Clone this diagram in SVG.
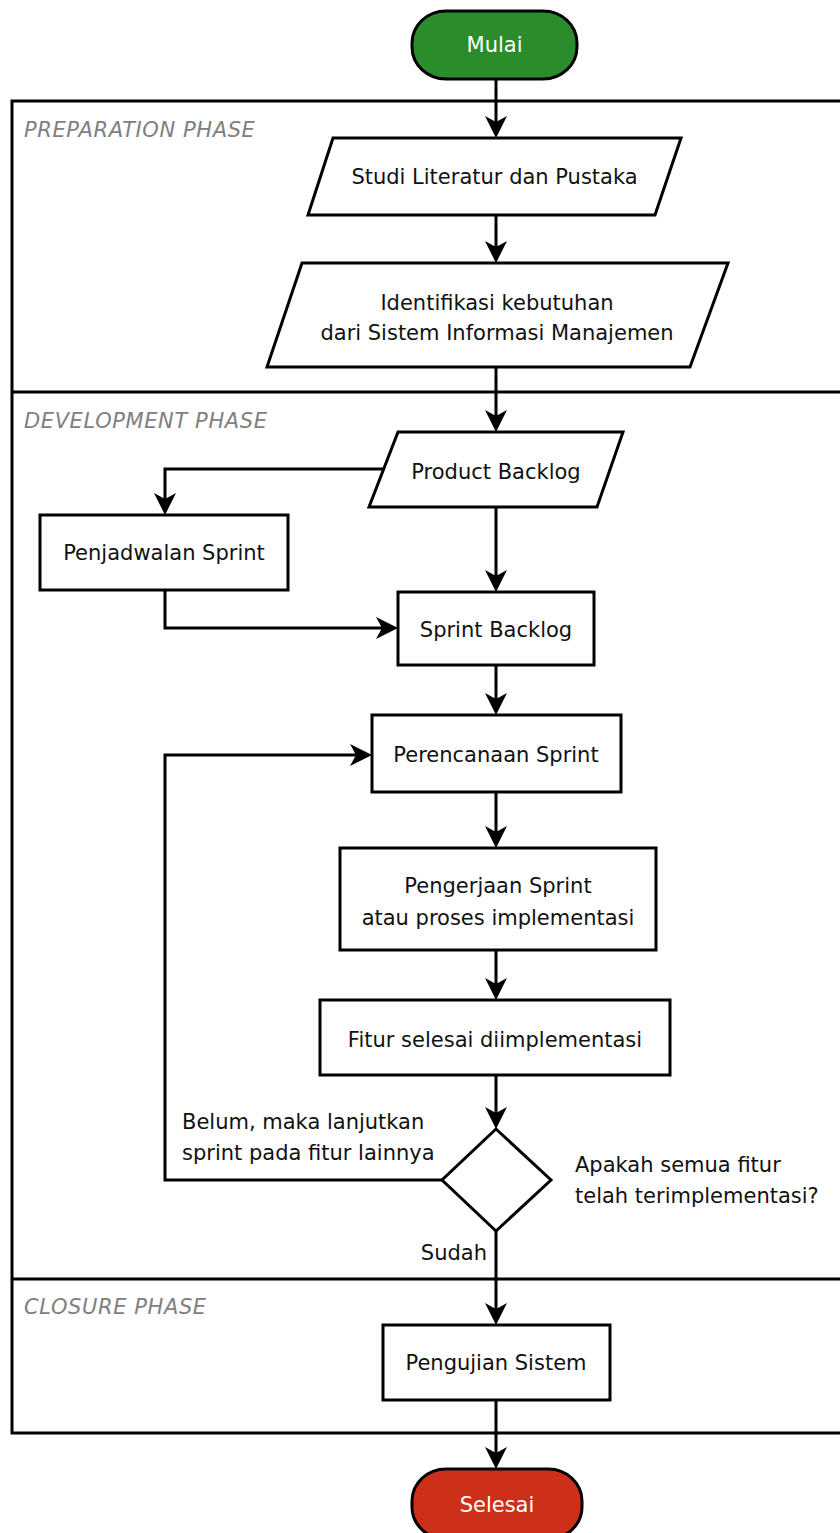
<svg xmlns="http://www.w3.org/2000/svg" width="840" height="1533" viewBox="0 0 840 1533">
<style>
.shape{fill:#fff;stroke:#000;stroke-width:3}
.frame{fill:none;stroke:#000;stroke-width:3}
.conn{fill:none;stroke:#000;stroke-width:3}
.t{font-family:"DejaVu Sans",Verdana,sans-serif;font-size:21px;fill:#111;text-anchor:middle}
.tl{font-family:"DejaVu Sans",Verdana,sans-serif;font-size:21px;fill:#111}
.ph{font-family:"DejaVu Sans",Verdana,sans-serif;font-size:21px;font-style:italic;fill:#808080;letter-spacing:0.6px}
</style>
<defs>
<marker id="arr" viewBox="0 0 22 22" markerWidth="22" markerHeight="22" refX="18" refY="11" orient="auto" markerUnits="userSpaceOnUse">
<path d="M0,0 L22,11 L0,22 L6,11 Z" fill="#000"/>
</marker>
</defs>
<rect width="840" height="1533" fill="#fff"/>
<g id="frame">
<path class="frame" d="M845,101 H12 V1433 H845"/>
<path class="frame" d="M12,392 H845"/>
<path class="frame" d="M12,1279 H845"/>
<text class="ph" x="24" y="137">PREPARATION PHASE</text>
<text class="ph" x="24" y="428">DEVELOPMENT PHASE</text>
<text class="ph" x="24" y="1314">CLOSURE PHASE</text>
</g>
<g id="connectors">
<path class="conn" marker-end="url(#arr)" d="M496,79 V134"/>
<path class="conn" marker-end="url(#arr)" d="M496,215 V259"/>
<path class="conn" marker-end="url(#arr)" d="M496,367 V428"/>
<path class="conn" marker-end="url(#arr)" d="M384,469 H165 V511"/>
<path class="conn" marker-end="url(#arr)" d="M496,507 V588"/>
<path class="conn" marker-end="url(#arr)" d="M165,590 V628 H394"/>
<path class="conn" marker-end="url(#arr)" d="M496,665 V711"/>
<path class="conn" marker-end="url(#arr)" d="M496,792 V844"/>
<path class="conn" marker-end="url(#arr)" d="M496,950 V996"/>
<path class="conn" marker-end="url(#arr)" d="M496,1075 V1125"/>
<path class="conn" marker-end="url(#arr)" d="M442,1180 H165 V755 H368"/>
<path class="conn" marker-end="url(#arr)" d="M496,1231 V1321"/>
<path class="conn" marker-end="url(#arr)" d="M496,1400 V1465"/>
<text class="tl" x="182" y="1129">Belum, maka lanjutkan</text>
<text class="tl" x="182" y="1160">sprint pada fitur lainnya</text>
<text class="tl" x="487" y="1260" text-anchor="end">Sudah</text>
</g>
<g id="mulai">
<rect x="412" y="11" width="165" height="68" rx="34" ry="32" fill="#2b8c2b" stroke="#000" stroke-width="3"/>
<text class="t" x="494.5" y="52" style="fill:#fff">Mulai</text>
</g>
<g id="studi">
<polygon class="shape" points="333,138 681,138 655,215 308,215"/>
<text class="t" x="494.5" y="184">Studi Literatur dan Pustaka</text>
</g>
<g id="identifikasi">
<polygon class="shape" points="302,263 728,263 690,367 267,367"/>
<text class="t" x="497" y="310">Identifikasi kebutuhan</text>
<text class="t" x="497" y="340">dari Sistem Informasi Manajemen</text>
</g>
<g id="product-backlog">
<polygon class="shape" points="398,432 623,432 597,507 369,507"/>
<text class="t" x="496" y="479">Product Backlog</text>
</g>
<g id="penjadwalan">
<rect class="shape" x="40" y="515" width="248" height="75"/>
<text class="t" x="164" y="560">Penjadwalan Sprint</text>
</g>
<g id="sprint-backlog">
<rect class="shape" x="398" y="592" width="196" height="73"/>
<text class="t" x="496" y="637">Sprint Backlog</text>
</g>
<g id="perencanaan">
<rect class="shape" x="372" y="715" width="249" height="77"/>
<text class="t" x="496" y="762">Perencanaan Sprint</text>
</g>
<g id="pengerjaan">
<rect class="shape" x="340" y="848" width="316" height="102"/>
<text class="t" x="498" y="893">Pengerjaan Sprint</text>
<text class="t" x="498" y="925">atau proses implementasi</text>
</g>
<g id="fitur">
<rect class="shape" x="320" y="1000" width="350" height="75"/>
<text class="t" x="495" y="1047">Fitur selesai diimplementasi</text>
</g>
<g id="decision">
<polygon class="shape" points="496,1129 551,1180 496,1231 442,1180"/>
<text class="tl" x="575" y="1172">Apakah semua fitur</text>
<text class="tl" x="575" y="1203">telah terimplementasi?</text>
</g>
<g id="pengujian">
<rect class="shape" x="383" y="1325" width="227" height="75"/>
<text class="t" x="496" y="1370">Pengujian Sistem</text>
</g>
<g id="selesai">
<rect x="412" y="1469" width="170" height="70" rx="34" ry="32" fill="#cc3018" stroke="#000" stroke-width="3"/>
<text class="t" x="497" y="1512" style="fill:#fff">Selesai</text>
</g>
</svg>
